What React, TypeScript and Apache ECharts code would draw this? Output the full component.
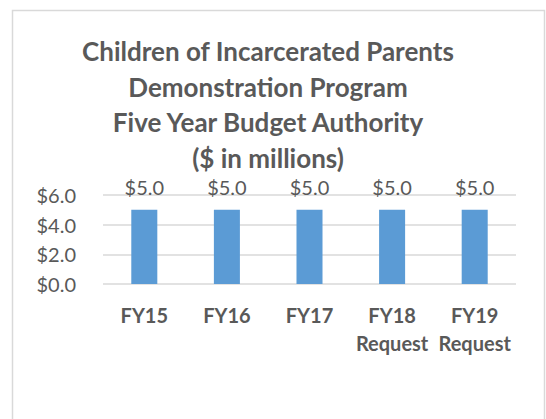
import React, { useEffect, useRef } from "react";
import * as echarts from "echarts";

const categories = ["FY15", "FY16", "FY17", "FY18\nRequest", "FY19\nRequest"];
const values = [5.0, 5.0, 5.0, 5.0, 5.0];
const yTicks = [0, 2, 4, 6];
const titleLines = [
  "Children of Incarcerated Parents",
  "Demonstration Program",
  "Five Year Budget Authority",
  "($ in millions)",
];

const FONT = "Lato, 'Open Sans', sans-serif";
const GREY = "#595959";

export default function App() {
  const ref = useRef<HTMLDivElement>(null);
  useEffect(() => {
    if (!ref.current) return;
    const chart = echarts.init(ref.current, undefined, { renderer: "svg" });
    const titleTexts = titleLines.map((t, i) => ({
      type: "text",
      x: 268,
      y: 51 + i * 35.5,
      style: {
        text: t,
        fontFamily: FONT,
        fontWeight: "bold",
        fontSize: 26,
        lineHeight: 26,
        fill: GREY,
        align: "center",
        verticalAlign: "middle",
      },
    }));
    chart.setOption({
      animation: false,
      backgroundColor: "#ffffff",
      textStyle: { fontFamily: FONT },
      graphic: [
        {
          type: "rect",
          shape: { x: 12.5, y: 10.5, width: 532, height: 430 },
          style: { fill: "none", stroke: "#D9D9D9", lineWidth: 1.5 },
          silent: true,
        },
        ...titleTexts,
      ],
      grid: { left: 103, right: 30, top: 195, bottom: 135 },
      xAxis: {
        type: "category",
        data: categories,
        axisLine: { show: false },
        axisTick: { show: false },
        axisLabel: {
          color: GREY,
          fontWeight: "bold",
          fontSize: 20,
          lineHeight: 28,
          margin: 17,
          fontFamily: FONT,
          interval: 0,
        },
      },
      yAxis: {
        type: "value",
        min: yTicks[0],
        max: yTicks[yTicks.length - 1],
        interval: 2,
        axisLine: { show: false },
        axisTick: { show: false },
        splitLine: { lineStyle: { color: "#D9D9D9", width: 1.5 } },
        axisLabel: {
          color: GREY,
          fontSize: 20,
          margin: 27,
          fontFamily: FONT,
          formatter: (v: number) => "$" + v.toFixed(1),
        },
      },
      series: [
        {
          type: "bar",
          data: values,
          barWidth: "31.5%",
          itemStyle: { color: "#5B9BD5" },
          label: {
            show: true,
            position: "top",
            distance: 13,
            color: GREY,
            fontSize: 20,
            lineHeight: 20,
            fontFamily: FONT,
            formatter: (p: any) => "$" + Number(p.value).toFixed(1),
          },
        },
      ],
    });
    return () => chart.dispose();
  }, []);
  return (
    <div
      ref={ref}
      style={{ position: "absolute", left: 0, top: 0, width: 546, height: 419 }}
    />
  );
}
